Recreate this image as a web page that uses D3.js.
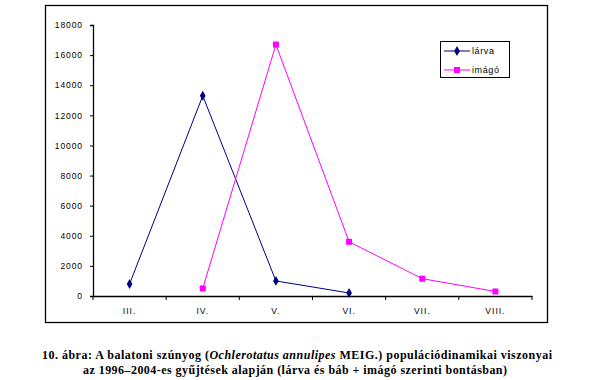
<!DOCTYPE html>
<html>
<head>
<meta charset="utf-8">
<script src="https://cdn.jsdelivr.net/npm/d3@7"></script>
<style>
  body { margin: 0; background: #fff; }
  text { font-family: "Liberation Sans", Arial, sans-serif; }
</style>
</head>
<body>
<div id="chart"></div>
<script>
// Data
var months = ["III.", "IV.", "V.", "VI.", "VII.", "VIII."];
var larvaMonths = ["III.", "IV.", "V.", "VI."];
var larvaValues = [800, 13300, 1000, 200];
var imagoMonths = ["IV.", "V.", "VI.", "VII.", "VIII."];
var imagoValues = [500, 16700, 3600, 1150, 300];
var yTicks = [0, 2000, 4000, 6000, 8000, 10000, 12000, 14000, 16000, 18000];

var svgWidth = 591;
var svgHeight = 380;

var plot = { left: 93, right: 532, top: 25, bottom: 296 };

var svg = d3.select("#chart")
  .append("svg")
  .attr("width", svgWidth)
  .attr("height", svgHeight);

// outer chart frame
svg.append("rect")
  .attr("x", 45.5)
  .attr("y", 5.5)
  .attr("width", 502)
  .attr("height", 317)
  .attr("fill", "none")
  .attr("stroke", "#000")
  .attr("stroke-width", 1.3);

var xScale = d3.scaleBand()
  .domain(months)
  .range([plot.left, plot.right]);

var yScale = d3.scaleLinear()
  .domain([0, 18000])
  .range([plot.bottom, plot.top]);

// y axis
var leftAxis = d3.axisLeft(yScale)
  .tickValues(yTicks)
  .tickSize(3)
  .tickPadding(7)
  .tickFormat(d => String(d));

var yAxis = svg.append("g")
  .attr("transform", `translate(${plot.left}, 0)`)
  .call(leftAxis);

yAxis.selectAll("text")
  .attr("font-size", 8.5)
  .attr("letter-spacing", 0.9)
  .attr("fill", "#000")
  .attr("font-family", "Liberation Sans, Arial, sans-serif");

// x axis with ticks on category boundaries
var bottomAxis = d3.axisBottom(xScale)
  .tickSize(0)
  .tickPadding(12);

var xAxis = svg.append("g")
  .attr("transform", `translate(0, ${plot.bottom})`)
  .call(bottomAxis);

xAxis.selectAll("text")
  .attr("font-size", 8.5)
  .attr("letter-spacing", 1)
  .attr("fill", "#000")
  .attr("font-family", "Liberation Sans, Arial, sans-serif");

var boundaries = months.map(m => xScale(m)).concat([plot.right]);
xAxis.selectAll(".bound")
  .data(boundaries)
  .enter()
  .append("line")
  .attr("x1", d => d)
  .attr("x2", d => d)
  .attr("y1", 0)
  .attr("y2", 4)
  .attr("stroke", "#000");

svg.selectAll(".domain").attr("stroke", "#000").attr("stroke-width", 1.3);

var cx = m => xScale(m) + xScale.bandwidth() / 2;

var line = d3.line()
  .x(d => cx(d.m))
  .y(d => yScale(d.v));

var larva = larvaMonths.map((m, i) => ({ m: m, v: larvaValues[i] }));
var imago = imagoMonths.map((m, i) => ({ m: m, v: imagoValues[i] }));

var navy = "#000080";
var magenta = "#ff00ff";

svg.append("path")
  .datum(larva)
  .attr("d", line)
  .attr("fill", "none")
  .attr("stroke", navy)
  .attr("stroke-width", 1);

svg.append("path")
  .datum(imago)
  .attr("d", line)
  .attr("fill", "none")
  .attr("stroke", magenta)
  .attr("stroke-width", 1);

var diamond = d3.symbol().type(d3.symbolDiamond).size(28);

svg.selectAll(".larva-pt")
  .data(larva)
  .enter()
  .append("path")
  .attr("d", diamond)
  .attr("transform", d => `translate(${cx(d.m)}, ${yScale(d.v)})`)
  .attr("fill", navy);

svg.selectAll(".imago-pt")
  .data(imago)
  .enter()
  .append("rect")
  .attr("x", d => cx(d.m) - 3)
  .attr("y", d => yScale(d.v) - 3)
  .attr("width", 6)
  .attr("height", 6)
  .attr("fill", magenta);

// legend
var legend = svg.append("g");

legend.append("rect")
  .attr("x", 440.5)
  .attr("y", 41.5)
  .attr("width", 69)
  .attr("height", 36)
  .attr("fill", "#fff")
  .attr("stroke", "#000");

var legendItems = [
  { name: "lárva", color: navy, y: 51, shape: "diamond" },
  { name: "imágó", color: magenta, y: 70, shape: "square" }
];

legendItems.forEach(function(item) {
  legend.append("line")
    .attr("x1", 444)
    .attr("x2", 470)
    .attr("y1", item.y)
    .attr("y2", item.y)
    .attr("stroke", item.color);
  if (item.shape === "diamond") {
    legend.append("path")
      .attr("d", diamond)
      .attr("transform", `translate(457, ${item.y})`)
      .attr("fill", item.color);
  } else {
    legend.append("rect")
      .attr("x", 454)
      .attr("y", item.y - 3)
      .attr("width", 6)
      .attr("height", 6)
      .attr("fill", item.color);
  }
  legend.append("text")
    .attr("x", 472)
    .attr("y", item.y + 3)
    .attr("font-size", 9)
    .attr("letter-spacing", 0.6)
    .text(item.name);
});

// caption
var caption = svg.append("g")
  .attr("font-weight", "bold")
  .attr("font-size", 12)
  .attr("text-anchor", "middle");

var line1 = caption.append("text")
  .attr("x", 297)
  .attr("y", 359)
  .attr("textLength", 510)
  .attr("lengthAdjust", "spacing")
  .style("font-family", "Liberation Serif, serif");
line1.append("tspan").text("10. ábra: A balatoni szúnyog (");
line1.append("tspan").attr("font-style", "italic").text("Ochlerotatus annulipes");
line1.append("tspan").text(" MEIG.) populációdinamikai viszonyai");

caption.append("text")
  .attr("x", 295)
  .attr("y", 374)
  .attr("textLength", 424)
  .attr("lengthAdjust", "spacing")
  .style("font-family", "Liberation Serif, serif")
  .text("az 1996–2004-es gyűjtések alapján (lárva és báb + imágó szerinti bontásban)");
</script>
</body>
</html>
